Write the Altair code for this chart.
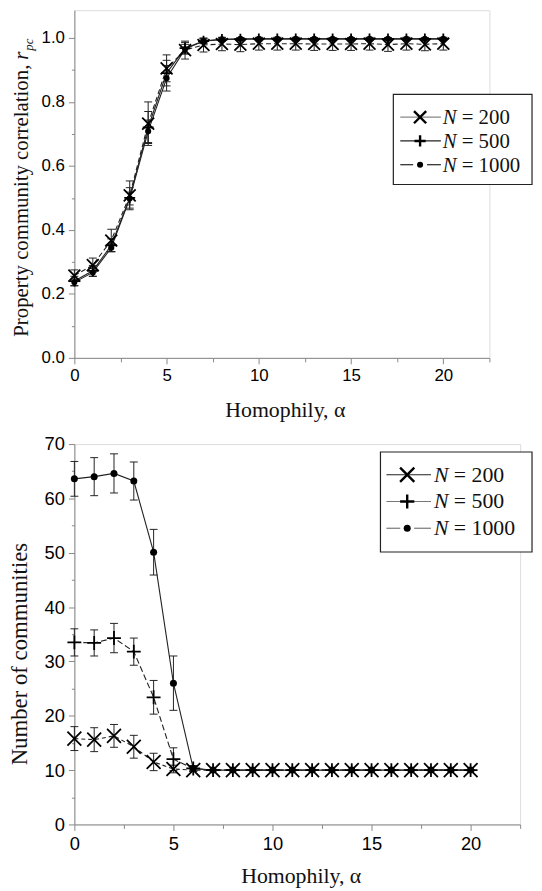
import altair as alt
import pandas as pd

FONT = "Liberation Serif"

alpha = list(range(21))
series_names = ["N = 200", "N = 500", "N = 1000"]

# ---- Top panel: property community correlation r_pc ----
rpc_n200 = [0.257, 0.290, 0.367, 0.508, 0.732, 0.905, 0.962, 0.978, 0.981, 0.979, 0.982,
            0.982, 0.982, 0.981, 0.981, 0.981, 0.982, 0.979, 0.982, 0.980, 0.982]
rpc_n200_err = [0.018, 0.022, 0.035, 0.045, 0.068, 0.042, 0.028, 0.022, 0.021, 0.022, 0.020,
                0.020, 0.020, 0.020, 0.020, 0.020, 0.020, 0.021, 0.020, 0.020, 0.020]
rpc_n500 = [0.240, 0.272, 0.352, 0.500, 0.720, 0.890, 0.968, 0.990, 0.995, 0.996, 0.997,
            0.997, 0.997, 0.997, 0.997, 0.997, 0.997, 0.997, 0.997, 0.997, 0.997]
rpc_n500_err = [0.015, 0.017, 0.020, 0.032, 0.050, 0.040, 0.018, 0.008, 0.005, 0.004, 0.003,
                0.003, 0.003, 0.003, 0.003, 0.003, 0.003, 0.003, 0.003, 0.003, 0.003]
rpc_n1000 = [0.236, 0.267, 0.344, 0.498, 0.708, 0.874, 0.965, 0.990, 0.996, 0.997, 0.997,
             0.997, 0.997, 0.997, 0.997, 0.997, 0.997, 0.997, 0.997, 0.997, 0.997]
rpc_n1000_err = [0.010, 0.012, 0.012, 0.020, 0.035, 0.040, 0.015, 0.006, 0.004, 0.003, 0.003,
                 0.003, 0.003, 0.003, 0.003, 0.003, 0.003, 0.003, 0.003, 0.003, 0.003]

# ---- Bottom panel: number of communities ----
nc_n200 = [15.8, 15.6, 16.3, 14.3, 11.5, 10.2, 10.0, 10.0, 10.0, 10.0, 10.0,
           10.0, 10.0, 10.0, 10.0, 10.0, 10.0, 10.0, 10.0, 10.0, 10.0]
nc_n200_err = [2.2, 2.2, 2.1, 2.1, 1.6, 0.7, 0.2, 0.1, 0.1, 0.1, 0.1,
               0.1, 0.1, 0.1, 0.1, 0.1, 0.1, 0.1, 0.1, 0.1, 0.1]
nc_n500 = [33.5, 33.4, 34.3, 31.8, 23.4, 12.0, 10.3, 10.0, 10.0, 10.0, 10.0,
           10.0, 10.0, 10.0, 10.0, 10.0, 10.0, 10.0, 10.0, 10.0, 10.0]
nc_n500_err = [2.5, 2.4, 2.7, 2.5, 3.1, 2.1, 0.5, 0.1, 0.1, 0.1, 0.1,
               0.1, 0.1, 0.1, 0.1, 0.1, 0.1, 0.1, 0.1, 0.1, 0.1]
nc_n1000 = [63.6, 64.0, 64.6, 63.2, 50.1, 26.0, 10.3, 10.0, 10.0, 10.0, 10.0,
            10.0, 10.0, 10.0, 10.0, 10.0, 10.0, 10.0, 10.0, 10.0, 10.0]
nc_n1000_err = [3.2, 3.5, 3.6, 3.5, 4.2, 5.0, 0.5, 0.1, 0.1, 0.1, 0.1,
                0.1, 0.1, 0.1, 0.1, 0.1, 0.1, 0.1, 0.1, 0.1, 0.1]

X_PATH = "M-1,-1L1,1M-1,1L1,-1"
PLUS_PATH = "M-1,0L1,0M0,-1L0,1"
DUMMY = pd.DataFrame({"d": [0]})


def frame(vals, errs, name):
    return pd.DataFrame({
        "alpha": alpha,
        "value": vals,
        "lo": [v - e for v, e in zip(vals, errs)],
        "hi": [v + e for v, e in zip(vals, errs)],
        "series": name,
    })


def text_layer(txt, x, y, size, style="normal", align="left", angle=0, dy=0,
               baseline="alphabetic", color="#111"):
    return alt.Chart(pd.DataFrame({"t": [txt]})).mark_text(
        font=FONT, fontSize=size, fontStyle=style, align=align, baseline=baseline,
        angle=angle, dy=dy, color=color
    ).encode(x=alt.value(x), y=alt.value(y), text="t:N")


def rule_layer(x1, x2, y, color):
    return alt.Chart(DUMMY).mark_rule(color=color, strokeWidth=1.2).encode(
        x=alt.value(x1), x2=alt.value(x2), y=alt.value(y))


def panel(frames, styles, W, H, ydom, yvals, ylabel_test, ytick_test, yfmt,
          lab_size, marker_sizes, legend, titles):
    x_axis = alt.Axis(
        values=[i * 2.5 for i in range(10)],
        labelExpr="datum.value % 5 === 0 ? datum.label : ''",
        tickSize={"condition": {"test": "datum.value % 5 === 0", "value": 6}, "value": 4},
        labelFontSize=lab_size, labelPadding=4, labelOverlap=False, labelFlush=False,
        labelAngle=0, title=None, grid=False)
    y_axis = alt.Axis(
        values=yvals, format=yfmt,
        labelExpr=ylabel_test + " ? datum.label : ''",
        tickSize={"condition": {"test": ytick_test, "value": 6}, "value": 3},
        labelFontSize=lab_size, labelPadding=4, labelOverlap=False, labelFlush=False,
        title=None, grid=False)
    X = alt.X("alpha:Q", scale=alt.Scale(domain=[0, 22.5], nice=False, zero=False), axis=x_axis)
    Y = alt.Y("value:Q", scale=alt.Scale(domain=ydom, nice=False), axis=y_axis)
    Ylo = alt.Y("lo:Q", scale=alt.Scale(domain=ydom, nice=False), axis=y_axis)
    Yhi = alt.Y("hi:Q", scale=alt.Scale(domain=ydom, nice=False), axis=y_axis)

    layers = []
    for df, st in zip(frames, styles):
        kw = dict(color="#222", strokeWidth=1.1)
        if st["dash"]:
            kw["strokeDash"] = st["dash"]
        layers.append(alt.Chart(df).mark_line(**kw).encode(x=X, y=Y))
    for df in frames:
        layers.append(alt.Chart(df).mark_rule(color="#222", strokeWidth=1).encode(
            x=X, y=Ylo, y2=alt.Y2("hi:Q")))
        layers.append(alt.Chart(df).mark_tick(orient="horizontal", size=8, thickness=1,
                                              color="#222", opacity=1).encode(x=X, y=Ylo))
        layers.append(alt.Chart(df).mark_tick(orient="horizontal", size=8, thickness=1,
                                              color="#222", opacity=1).encode(x=X, y=Yhi))
    for df, st, ms in zip(frames, styles, marker_sizes):
        if st["shape"] == "circle":
            mk = alt.Chart(df).mark_point(shape="circle", filled=True, size=ms,
                                          color="black", opacity=1)
        else:
            mk = alt.Chart(df).mark_point(shape=st["shape"], filled=False, size=ms,
                                          strokeWidth=1.8, color="black", opacity=1)
        layers.append(mk.encode(x=X, y=Y))

    # legend box
    L = legend
    layers.append(alt.Chart(DUMMY).mark_rect(fill="white", stroke="#222", strokeWidth=1.2).encode(
        x=alt.value(L["left"]), x2=alt.value(L["right"]),
        y=alt.value(L["top"]), y2=alt.value(L["bottom"])))
    for i, (st, ms) in enumerate(zip(styles, marker_sizes)):
        ry = L["rows"][i]
        x1 = L["left"] + L["line"][0]
        x2 = L["left"] + L["line"][1]
        xm = L["left"] + L["marker"]
        lc = L["line_colors"][i]
        if L["gap"][i]:
            layers.append(rule_layer(x1, xm - 7, ry, lc))
            layers.append(rule_layer(xm + 7, x2, ry, lc))
        else:
            layers.append(rule_layer(x1, x2, ry, lc))
        if st["shape"] == "circle":
            m = alt.Chart(DUMMY).mark_point(shape="circle", filled=True, size=ms,
                                            color="black", opacity=1)
        else:
            m = alt.Chart(DUMMY).mark_point(shape=st["shape"], filled=False, size=ms * 1.05,
                                            strokeWidth=2.4, color="black", opacity=1)
        layers.append(m.encode(x=alt.value(xm), y=alt.value(ry)))
        layers.append(text_layer("N", L["left"] + L["n"], ry + L["base"], L["font"], style="italic"))
        layers.append(text_layer("= " + series_names[i].split("= ")[1], L["left"] + L["eq"],
                                 ry + L["base"], L["font"]))

    layers.extend(titles)
    return alt.layer(*layers).properties(width=W, height=H)


top_frames = [frame(rpc_n200, rpc_n200_err, series_names[0]),
              frame(rpc_n500, rpc_n500_err, series_names[1]),
              frame(rpc_n1000, rpc_n1000_err, series_names[2])]
top_styles = [{"shape": X_PATH, "dash": [5, 3]},
              {"shape": PLUS_PATH, "dash": None},
              {"shape": "circle", "dash": None}]
top_legend = {"left": 322, "right": 462, "top": 85, "bottom": 176,
              "rows": [108, 132, 156], "line": [7, 48], "marker": 27,
              "n": 50, "eq": 69, "font": 21, "base": 7,
              "line_colors": ["#888", "#222", "#222"], "gap": [False, False, True]}
top_titles = [
    text_layer("Property community correlation,", -47, 55, 21, align="right", angle=270),
    text_layer("r", -47, 50, 21, style="italic", align="left", angle=270),
    text_layer("pc", -47, 41, 13, style="italic", align="left", angle=270, dy=5),
    text_layer("Homophily, \u03b1", 213, 411, 22, align="center"),
]
top = panel(top_frames, top_styles, 419, 351, [0, 1.0867],
            [round(i * 0.1, 1) for i in range(11)],
            "round(datum.value*10) % 2 === 0",
            "round(datum.value*10) % 2 === 0", ".1f",
            17, [144, 121, 38], top_legend, top_titles)

bot_frames = [frame(nc_n200, nc_n200_err, series_names[0]),
              frame(nc_n500, nc_n500_err, series_names[1]),
              frame(nc_n1000, nc_n1000_err, series_names[2])]
bot_styles = [{"shape": X_PATH, "dash": [4, 3]},
              {"shape": PLUS_PATH, "dash": [6, 3]},
              {"shape": "circle", "dash": None}]
bot_legend = {"left": 309, "right": 462, "top": 8, "bottom": 109,
              "rows": [31, 58, 85], "line": [6, 51], "marker": 27,
              "n": 54, "eq": 74, "font": 22, "base": 7,
              "line_colors": ["#222", "#777", "#777"], "gap": [False, False, True]}
bot_titles = [
    text_layer("Number of communities", -48, 212, 23, align="center", angle=270),
    text_layer("Homophily, \u03b1", 229, 443, 22, align="center"),
]
bottom = panel(bot_frames, bot_styles, 450, 384, [0, 70],
               list(range(0, 75, 5)),
               "datum.value % 10 === 0", "datum.value % 10 === 0", "d",
               18.5, [196, 196, 50], bot_legend, bot_titles)

chart = alt.vconcat(top, bottom, spacing=87, bounds="flush").properties(
    padding={"left": 0, "top": -3, "right": 0, "bottom": 0}
).configure_view(stroke=None).configure_axis(
    domainColor="black", domainWidth=1.2, tickColor="black", tickWidth=1.2,
    labelColor="#111", labelFont=FONT
).configure(background="white")

chart.save("out.html", embed_options={"renderer": "svg", "actions": False})
